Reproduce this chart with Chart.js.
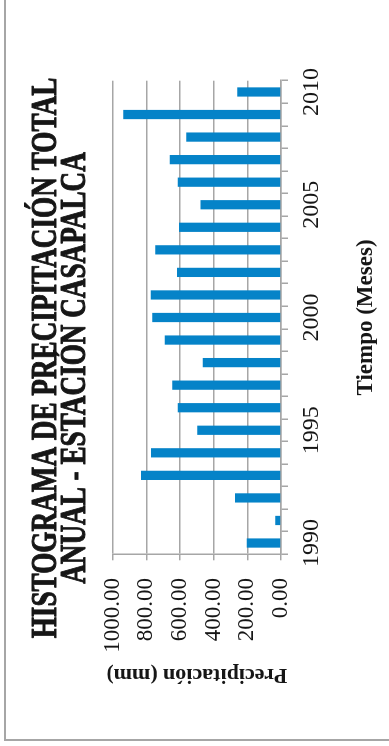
<!DOCTYPE html>
<html>
<head>
<meta charset="utf-8">
<script src="https://cdn.jsdelivr.net/npm/chart.js@4.4.0/dist/chart.umd.min.js"></script>
<style>
  html, body { margin: 0; padding: 0; background: #fff; overflow: hidden; }
  /* the chart is laid out landscape, then turned a quarter left */
  #wrap {
    position: absolute; left: 0; top: 0;
    width: 746px; height: 389px;
    transform-origin: 0 0;
    transform: translateY(746px) rotate(-90deg);
  }
</style>
</head>
<body>
<div id="wrap"><canvas id="hist" width="746" height="389"></canvas></div>
<script>
// annual precipitation, Casapalca station
const years = ['1990', '1991', '1992', '1993', '1994', '1995', '1996', '1997', '1998', '1999', '2000',
               '2001', '2002', '2003', '2004', '2005', '2006', '2007', '2008', '2009', '2010'];
const precip = [204, 34, 273, 832, 772, 497, 614, 646, 465, 691, 765,
                774, 618, 747, 606, 479, 614, 661, 563, 937, 260];
const labeledYears = ['1990', '1995', '2000', '2005', '2010'];
const titleLines = ['HISTOGRAMA DE PRECIPITACIÓN TOTAL', 'ANUAL - ESTACIÓN CASAPALCA'];

const barColor = '#0583c8';
const gridColor = '#a6a6a6';
const textColor = '#161616';
const serif = '"Liberation Serif", "Times New Roman", serif';

// outer frame + condensed two line title
const frameAndTitle = {
  id: 'frameAndTitle',
  beforeDraw(chart) {
    const ctx = chart.ctx;
    ctx.save();
    ctx.strokeStyle = gridColor;
    ctx.lineWidth = 2;
    ctx.strokeRect(6, 5, 1000, 1000);
    ctx.restore();
  },
  afterDraw(chart) {
    const ctx = chart.ctx;
    const centers = [388, 378];
    const baselines = [56, 85];
    ctx.save();
    ctx.fillStyle = textColor;
    ctx.strokeStyle = textColor;
    ctx.lineWidth = 1;
    ctx.lineJoin = 'round';
    ctx.font = 'bold 36px ' + serif;
    ctx.textAlign = 'center';
    ctx.textBaseline = 'alphabetic';
    titleLines.forEach((line, i) => {
      ctx.save();
      ctx.translate(centers[i], baselines[i]);
      ctx.scale(0.755, 1);
      ctx.fillText(line, 0, 0);
      ctx.strokeText(line, 0, 0);
      ctx.restore();
    });
    ctx.restore();
  }
};

const data = {
  labels: years,
  datasets: [{
    label: 'Precipitación',
    data: precip,
    backgroundColor: barColor,
    borderWidth: 0,
    categoryPercentage: 1,
    barPercentage: 0.41
  }]
};

const config = {
  type: 'bar',
  data: data,
  options: {
    responsive: false,
    animation: false,
    devicePixelRatio: 1,
    layout: {
      padding: { left: 6, top: 112.7, right: 80.7, bottom: 0 }
    },
    plugins: {
      legend: { display: false },
      tooltip: { enabled: false },
      title: { display: false }
    },
    scales: {
      x: {
        afterFit: s => { s.height = 108; },
        grid: {
          drawOnChartArea: false,
          drawTicks: true,
          tickLength: 7,
          color: gridColor,
          lineWidth: 1.5
        },
        border: { display: true, color: gridColor, width: 1.5 },
        ticks: {
          autoSkip: false,
          maxRotation: 0,
          padding: 9.6,
          color: textColor,
          font: { family: serif, size: 24 },
          callback: function (v) {
            const lab = this.getLabelForValue(v);
            return labeledYears.includes(lab) ? lab : '';
          }
        },
        title: {
          display: true,
          text: 'Tiempo (Meses)',
          color: textColor,
          font: { family: serif, size: 23, weight: 'bold' },
          padding: { top: 0, bottom: 9.3 }
        }
      },
      y: {
        min: 0,
        max: 1000,
        afterFit: s => { s.width = 185.7; },
        grid: {
          drawTicks: true,
          tickLength: 6,
          color: gridColor,
          lineWidth: 1.5
        },
        border: { display: true, color: gridColor, width: 1.5 },
        ticks: {
          stepSize: 200,
          padding: 17.7,
          color: textColor,
          font: { family: serif, size: 23 },
          callback: v => v.toFixed(2)
        },
        title: {
          display: true,
          text: 'Precipitación (mm)',
          color: textColor,
          font: { family: serif, size: 22, weight: 'bold' },
          padding: { top: 51.8, bottom: 0 }
        }
      }
    }
  },
  plugins: [frameAndTitle]
};

function start() {
  const ctx = document.getElementById('hist').getContext('2d');
  new Chart(ctx, config);
}

window.onload = start;
</script>
</body>
</html>
